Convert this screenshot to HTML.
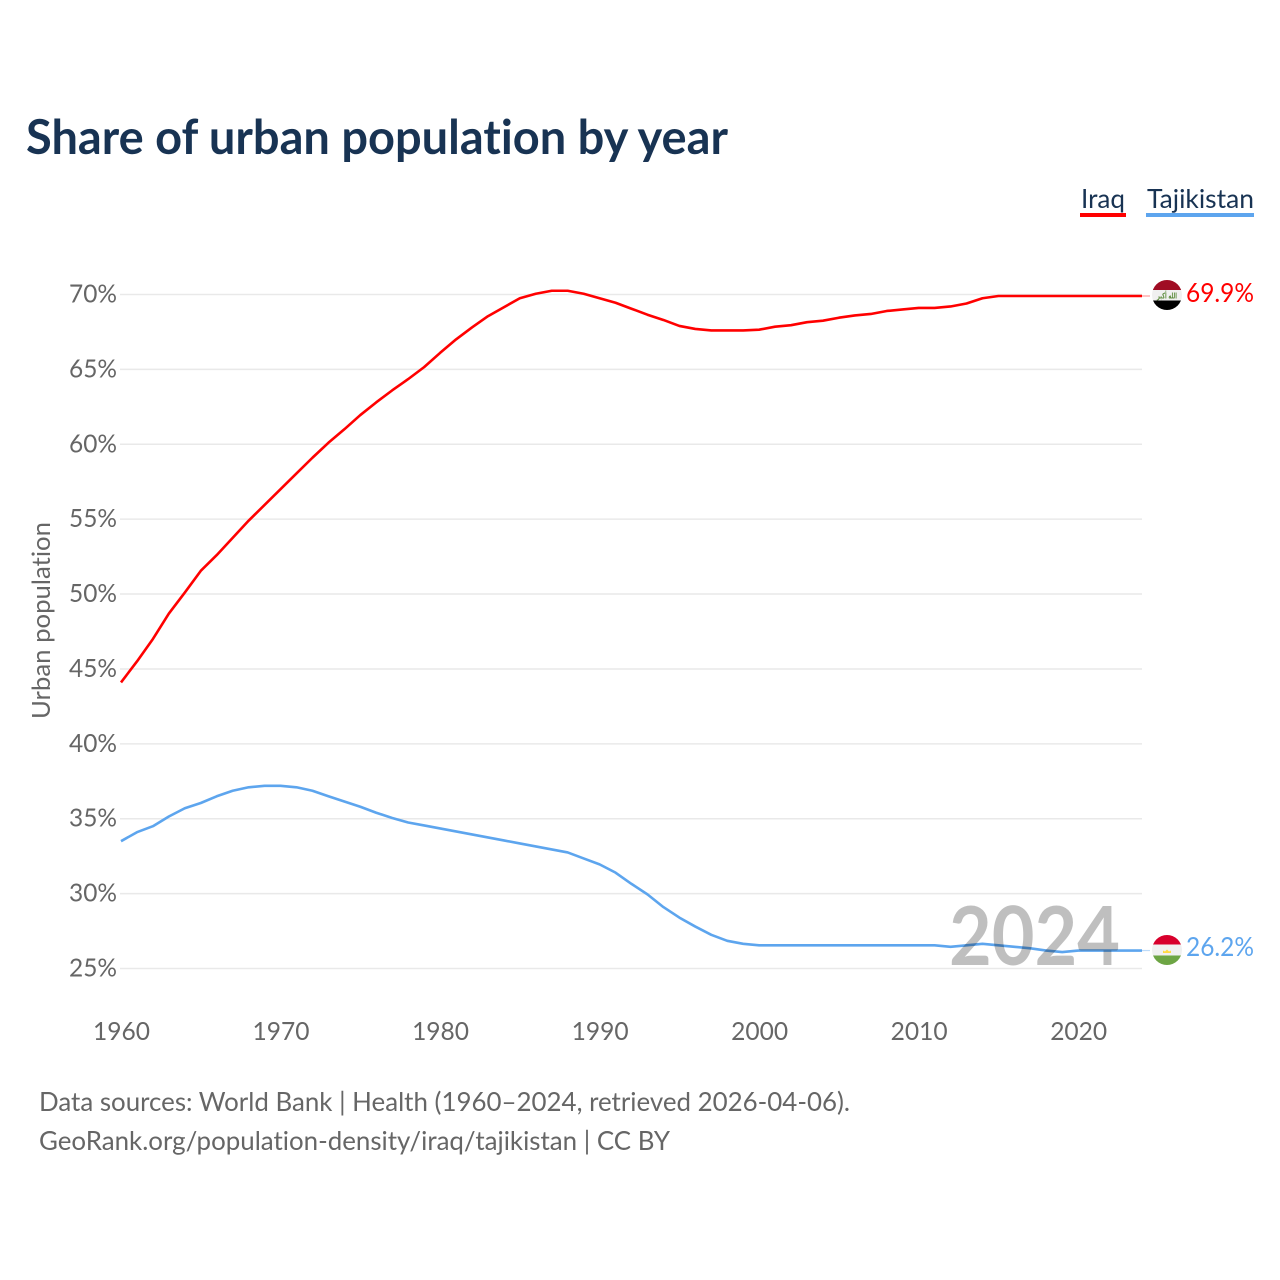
<!DOCTYPE html>
<html lang="en">
<head>
<meta charset="utf-8">
<title>Share of urban population by year</title>
<style>
html,body{margin:0;padding:0;background:#fff;width:1280px;height:1280px;overflow:hidden}
svg{display:block}
text{font-family:"Lato","Carlito","Liberation Sans",sans-serif;font-variant-ligatures:none}
.tick{font-size:25.5px;fill:#666}
</style>
</head>
<body>
<svg id="chart" width="1280" height="1280" viewBox="0 0 1280 1280" xmlns="http://www.w3.org/2000/svg">
  <defs>
    <clipPath id="flag-clip-iraq"><circle cx="1167" cy="295" r="15"/></clipPath>
    <clipPath id="flag-clip-tajikistan"><circle cx="1167" cy="950" r="15"/></clipPath>
  </defs>
  <text x="26" y="154" font-size="48" font-weight="700" fill="#183353" textLength="702" lengthAdjust="spacingAndGlyphs">Share of urban population by year</text>

  <g>
    <text x="1081" y="208" font-size="26.5" fill="#183353" textLength="44" lengthAdjust="spacingAndGlyphs">Iraq</text>
    <rect x="1080" y="213" width="46" height="4" fill="#ff0000"/>
  </g>
  <g>
    <text x="1147" y="208" font-size="26.5" fill="#183353" textLength="107" lengthAdjust="spacingAndGlyphs">Tajikistan</text>
    <rect x="1146" y="213" width="108" height="4" fill="#5da5ee"/>
  </g>

  <g id="grid"></g>
  <g id="y-ticks"></g>
  <g id="x-ticks"></g>
  <text transform="translate(50,620.5) rotate(-90)" text-anchor="middle" font-size="25.5" fill="#666" textLength="197" lengthAdjust="spacingAndGlyphs">Urban population</text>

  <g id="series"></g>

  <text x="949" y="965" font-size="81" font-weight="700" fill="#000" fill-opacity="0.25" textLength="171" lengthAdjust="spacingAndGlyphs">2024</text>

  <g clip-path="url(#flag-clip-iraq)">
    <rect x="1152" y="280" width="30" height="10" fill="#a00d24"/>
    <rect x="1152" y="290" width="30" height="10.5" fill="#f0f0f0"/>
    <rect x="1152" y="300.5" width="30" height="10" fill="#000"/>
    <text x="1157" y="298.5" font-size="8" font-weight="700" fill="#5a8a3a" textLength="20" lengthAdjust="spacingAndGlyphs" style="font-family:'DejaVu Sans',sans-serif">الله أكبر</text>
  </g>
  <text id="label-iraq" x="1186" y="302" font-size="26.5" fill="#ff0000" textLength="68" lengthAdjust="spacingAndGlyphs">69.9%</text>

  <g clip-path="url(#flag-clip-tajikistan)">
    <rect x="1152" y="935" width="30" height="9.5" fill="#d8002c"/>
    <rect x="1152" y="944.5" width="30" height="11" fill="#f0f0f0"/>
    <rect x="1152" y="955.5" width="30" height="9.5" fill="#6da544"/>
    <path d="M1163 953 L1171 953 L1171 950.5 L1169 951.5 L1167 949.5 L1165 951.5 L1163 950.5 Z" fill="#ffda44"/>
  </g>
  <text id="label-tajikistan" x="1186" y="956" font-size="26.5" fill="#5da5ee" textLength="68" lengthAdjust="spacingAndGlyphs">26.2%</text>

  <text x="39" y="1111" font-size="26" fill="#666" textLength="811" lengthAdjust="spacingAndGlyphs">Data sources: World Bank | Health (1960–2024, retrieved 2026-04-06).</text>
  <a><text x="39" y="1150" font-size="26" fill="#666" textLength="631" lengthAdjust="spacingAndGlyphs">GeoRank.org/population-density/iraq/tajikistan | CC BY</text></a>
</svg>
<script>
const yTicks = [25, 30, 35, 40, 45, 50, 55, 60, 65, 70];
const xTicks = [1960, 1970, 1980, 1990, 2000, 2010, 2020];
const startYear = 1960;
const iraqValues = [44.1,45.5,47.0,48.7,50.1,51.55,52.6,53.75,54.9,55.95,57.0,58.05,59.1,60.1,61.0,61.95,62.8,63.6,64.35,65.15,66.1,67.0,67.8,68.55,69.15,69.75,70.05,70.25,70.25,70.05,69.75,69.45,69.05,68.65,68.3,67.9,67.7,67.6,67.6,67.6,67.65,67.85,67.95,68.15,68.25,68.45,68.6,68.7,68.9,69.0,69.1,69.1,69.2,69.4,69.75,69.9,69.9,69.9,69.9,69.9,69.9,69.9,69.9,69.9,69.9];
const tajikistanValues = [33.5,34.1,34.5,35.15,35.7,36.05,36.5,36.87,37.1,37.2,37.2,37.1,36.87,36.5,36.15,35.8,35.4,35.05,34.75,34.55,34.35,34.15,33.95,33.75,33.55,33.35,33.15,32.95,32.75,32.35,31.95,31.4,30.65,29.95,29.1,28.4,27.8,27.25,26.85,26.65,26.55,26.55,26.55,26.55,26.55,26.55,26.55,26.55,26.55,26.55,26.55,26.55,26.45,26.55,26.65,26.55,26.45,26.35,26.2,26.1,26.2,26.2,26.2,26.2,26.2];

const NS = 'http://www.w3.org/2000/svg';
const xScale = function (year) { return 121 + (year - 1960) * (1142 - 121) / 64; };
const yScale = function (v) { return 968.5 - (v - 25) * (968.5 - 294.5) / 45; };
function make(tag) { return document.createElementNS(NS, tag); }

const gridGroup = document.getElementById('grid');
const yGroup = document.getElementById('y-ticks');
yTicks.forEach(function (t) {
  const line = make('line');
  
  
  line.setAttribute('x1', 120);
  line.setAttribute('x2', 1142);
  line.setAttribute('y1', yScale(t));
  line.setAttribute('y2', yScale(t));
  line.setAttribute('stroke', '#e9e9e9');
  line.setAttribute('stroke-width', 1.5);
  gridGroup.appendChild(line);
  const label = make('text');
  
  
  label.setAttribute('class', 'tick');
  label.setAttribute('x', 117);
  label.setAttribute('y', yScale(t) + 8);
  label.setAttribute('text-anchor', 'end');
  label.setAttribute('textLength', 48);
  label.setAttribute('lengthAdjust', 'spacingAndGlyphs');
  label.textContent = t + '%';
  yGroup.appendChild(label);
});

const xGroup = document.getElementById('x-ticks');
xTicks.forEach(function (t) {
  const label = make('text');
  
  
  label.setAttribute('class', 'tick');
  label.setAttribute('x', xScale(t) + 0.5);
  label.setAttribute('y', 1040);
  label.setAttribute('text-anchor', 'middle');
  label.setAttribute('textLength', 57);
  label.setAttribute('lengthAdjust', 'spacingAndGlyphs');
  label.textContent = t;
  xGroup.appendChild(label);
});

const seriesGroup = document.getElementById('series');
function drawSeries(values, color, name) {
  const d = values.map(function (v, i) {
    return (i ? 'L' : 'M') + xScale(startYear + i).toFixed(2) + ' ' + yScale(v).toFixed(2);
  }).join(' ');
  const path = make('path');
  
  
  path.setAttribute('d', d);
  path.setAttribute('fill', 'none');
  path.setAttribute('stroke', color);
  path.setAttribute('stroke-width', 2.6);
  path.setAttribute('stroke-linejoin', 'round');
  seriesGroup.appendChild(path);
  const lastX = xScale(startYear + values.length - 1);
  const lastY = yScale(values[values.length - 1]);
  const connector = make('line');
  
  
  connector.setAttribute('x1', lastX);
  connector.setAttribute('x2', lastX + 8);
  connector.setAttribute('y1', lastY);
  connector.setAttribute('y2', lastY);
  connector.setAttribute('stroke', color);
  connector.setAttribute('stroke-opacity', 0.4);
  connector.setAttribute('stroke-width', 1.2);
  seriesGroup.appendChild(connector);
}
drawSeries(iraqValues, '#ff0000', 'line-iraq');
drawSeries(tajikistanValues, '#5da5ee', 'line-tajikistan');
</script>
</body>
</html>
